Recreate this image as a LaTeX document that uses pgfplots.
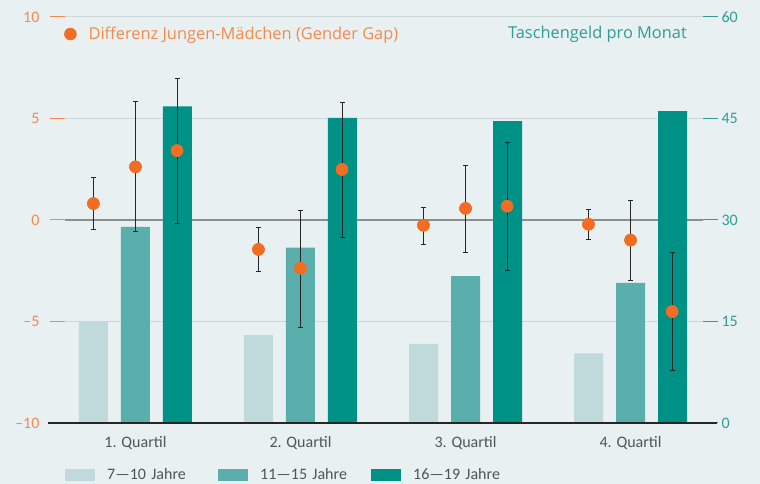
\documentclass[border=0pt]{standalone}
\usepackage{pgfplots}
\pgfplotsset{compat=1.18}
\usepackage{fontspec}
\setmainfont{Carlito}
\newfontfamily\topfont{Open Sans}
\definecolor{bg}{HTML}{E8F0F1}
\definecolor{barA}{HTML}{C0DADB}
\definecolor{barB}{HTML}{5AAFAD}
\definecolor{barC}{HTML}{009186}
\definecolor{dotc}{HTML}{F26C22}
\definecolor{orangetxt}{HTML}{F28B4E}
\definecolor{tealtxt}{HTML}{2E9E95}
\definecolor{gridc}{HTML}{CDD6D8}
\definecolor{zeroc}{HTML}{8C8F90}
\definecolor{txt}{HTML}{505557}

\pgfplotstableread{
x      y      ep    em
-0.255  0.81  1.30  1.29
0.000   2.62  3.20  3.20
0.252   3.42  3.55  3.59
0.745  -1.45  1.10  1.09
1.000  -2.37  2.85  2.94
1.252   2.49  3.31  3.37
1.745  -0.26  0.89  0.93
2.000   0.57  2.11  2.19
2.252   0.68  3.14  3.15
2.745  -0.21  0.73  0.73
3.000  -0.99  1.97  2.00
3.252  -4.51  2.89  2.89
}\gapdata

\pgfplotstableread{
q  a     b     c
0  15.0  29.0  46.8
1  13.0  25.9  45.1
2  11.7  21.7  44.6
3  10.3  20.7  46.1
}\bardata

\begin{document}
\begin{tikzpicture}
\fill[bg] (-65pt,-61pt) rectangle (695pt,423pt);
\begin{axis}[
  at={(0pt,0pt)}, anchor=south west,
  scale only axis, width=638pt, height=406pt,
  xmin=-0.427, xmax=3.439,
  ymin=0, ymax=60,
  axis y line*=right, axis x line*=bottom,
  axis line style={draw=none},
  clip=false,
  xtick={0,1,2,3},
  xticklabels={1. Quartil,2. Quartil,3. Quartil,4. Quartil},
  x tick style={draw=none},
  xticklabel style={font=\fontsize{16}{18}\selectfont, text=txt, yshift=5pt},
  ytick={15,45,60},
  extra y ticks={0,30},
  extra y tick labels={0,30},
  extra y tick style={grid style={zeroc, line width=2pt}, tick style={zeroc, line width=2pt}},
  ymajorgrids,
  grid style={gridc, line width=1pt},
  tick align=outside,
  major tick length=15pt,
  y tick style={tealtxt, line width=1pt},
  yticklabel style={font=\fontsize{16}{18}\selectfont, text=tealtxt},
  /pgf/number format/assume math mode=true,
  ybar, bar width=29pt,
  legend columns=3,
  legend style={at={(rel axis cs:0,0)}, anchor=west, yshift=-52pt,
    draw=none, fill=none, inner sep=0pt,
    /tikz/every odd column/.append style={column sep=12pt},
    nodes={inner sep=0pt, text width=111pt, align=left,
      font=\fontsize{16}{18}\selectfont, text=txt}},
]
\addplot[fill=barA, draw=none, bar shift=-42pt,
  legend image code/.code={\fill[barA] (0pt,-6pt) rectangle (30pt,6pt);}]
  table[x=q, y=a] {\bardata};
\addlegendentry{7—10 Jahre}
\addplot[fill=barB, draw=none, bar shift=0pt,
  legend image code/.code={\fill[barB] (0pt,-6pt) rectangle (30pt,6pt);}]
  table[x=q, y=b] {\bardata};
\addlegendentry{11—15 Jahre}
\addplot[fill=barC, draw=none, bar shift=42pt,
  legend image code/.code={\fill[barC] (0pt,-6pt) rectangle (30pt,6pt);}]
  table[x=q, y=c] {\bardata};
\addlegendentry{16—19 Jahre}
\node[anchor=east, inner sep=0pt, text=tealtxt, font=\topfont\fontsize{16.4}{19}\selectfont]
  at (rel axis cs:0.975,0.958) {Taschengeld pro Monat};
\end{axis}

\begin{axis}[
  at={(0pt,0pt)}, anchor=south west,
  scale only axis, width=638pt, height=406pt,
  xmin=-0.427, xmax=3.439,
  ymin=-10, ymax=10,
  axis y line*=left, axis x line*=bottom,
  axis line style={draw=none},
  clip=false,
  xtick=\empty,
  ytick={-5,5,10},
  yticklabels={–5,5,10},
  extra y ticks={-10,0},
  extra y tick labels={–10,0},
  extra y tick style={tick style={zeroc, line width=2pt}},
  tick align=outside,
  major tick length=15pt,
  y tick style={dotc!80, line width=1pt},
  yticklabel style={font=\fontsize{16}{18}\selectfont, text=orangetxt, xshift=-7pt},
  /pgf/number format/assume math mode=true,
  legend style={at={(rel axis cs:0,0.958)}, anchor=west, xshift=-1pt,
    draw=none, fill=none, inner sep=0pt,
    /tikz/every odd column/.append style={column sep=12pt},
    nodes={inner sep=0pt, font=\topfont\fontsize{16.4}{19}\selectfont, text=orangetxt}},
]
\addplot[only marks, mark=*, mark size=6pt, color=dotc,
  legend image code/.code={\fill[dotc] (6pt,0pt) circle (6pt);},
  error bars/.cd, y dir=both, y explicit,
  error bar style={color=black!85, line width=0.9pt},
  error mark options={rotate=90, mark size=2.5pt, line width=0.9pt, black!85}]
  table[x=x, y=y, y error plus=ep, y error minus=em] {\gapdata};
\addlegendentry{Differenz Jungen-Mädchen (Gender Gap)}
\addplot[only marks, mark=*, mark size=6pt, color=dotc, forget plot]
  table[x=x, y=y] {\gapdata};
\end{axis}
\draw[black!85, line width=1.2pt] (-17pt,0pt) -- (652pt,0pt);
\end{tikzpicture}
\end{document}
